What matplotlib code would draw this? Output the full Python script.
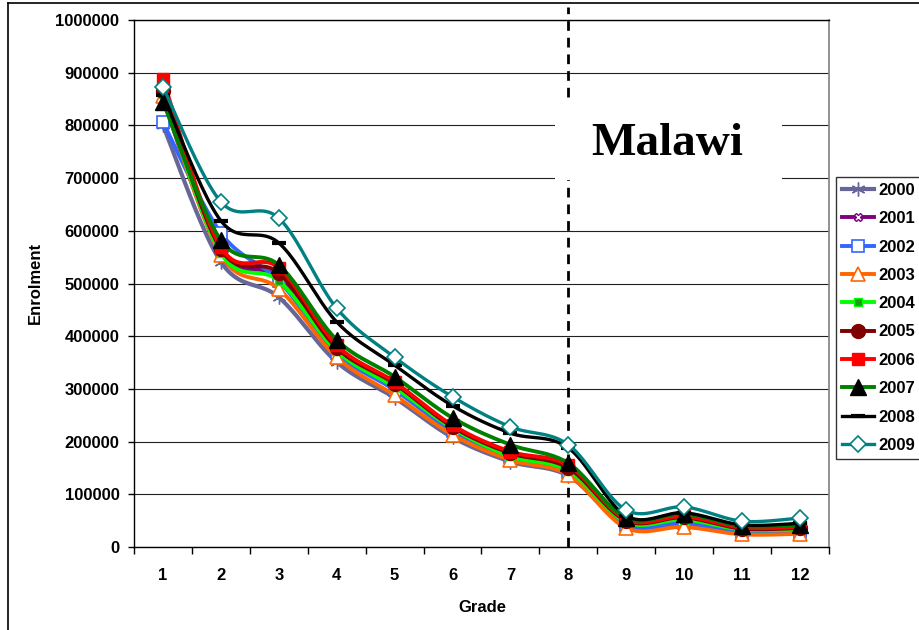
import numpy as np
import matplotlib
matplotlib.use('Agg')
import matplotlib.pyplot as plt
from matplotlib.lines import Line2D
from matplotlib.patches import Rectangle

plt.rcParams['font.family'] = ['Liberation Sans', 'DejaVu Sans']
plt.rcParams['font.weight'] = 'bold'

grades = [1, 2, 3, 4, 5, 6, 7, 8, 9, 10, 11, 12]
years = ['2000', '2001', '2002', '2003', '2004', '2005', '2006', '2007', '2008', '2009']

enr_2000 = [800000, 541000, 474000, 351000, 283000, 208000, 162000, 135000, 40000, 44000, 28000, 28000]
enr_2001 = [850000, 560000, 512000, 370000, 300000, 222000, 172000, 145000, 45000, 50000, 32000, 32000]
enr_2002 = [806000, 596000, 505000, 368000, 298000, 220000, 170000, 143000, 42000, 46000, 28000, 28000]
enr_2003 = [855000, 554000, 490000, 360000, 288000, 213000, 165000, 137000, 36000, 38000, 24000, 25000]
enr_2004 = [860000, 558000, 505000, 372000, 303000, 225000, 172000, 145000, 47000, 52000, 33000, 33000]
enr_2005 = [865000, 565000, 520000, 378000, 310000, 228000, 178000, 150000, 50000, 56000, 35000, 36000]
enr_2006 = [888000, 569000, 530000, 383000, 313000, 231000, 181000, 155000, 52000, 58000, 37000, 38000]
enr_2007 = [845000, 582000, 535000, 393000, 323000, 245000, 194000, 159000, 55000, 63000, 40000, 42000]
enr_2008 = [858000, 619000, 577000, 427000, 345000, 268000, 216000, 188000, 59000, 65000, 42000, 45000]
enr_2009 = [873000, 655000, 624000, 453000, 360000, 285000, 228000, 194000, 70000, 76000, 49000, 55000]

series = [enr_2000, enr_2001, enr_2002, enr_2003, enr_2004,
          enr_2005, enr_2006, enr_2007, enr_2008, enr_2009]

colors = ['#666699', '#800080', '#3366FF', '#FF6600', '#00FF00',
          '#800000', '#FF0000', '#008000', '#000000', '#008080']
styles = [
    dict(marker=(6, 2, 0), ms=10, mfc='#666699', mec='#666699', mew=1.0),
    dict(marker='X', ms=6, mfc='white', mec='#800080', mew=1.0),
    dict(marker='s', ms=9, mfc='white', mec='#3366FF', mew=1.2),
    dict(marker='^', ms=10, mfc='white', mec='#FF6600', mew=1.2),
    dict(marker='s', ms=6, mfc='#1a9a1a', mec='#00FF00', mew=1.0),
    dict(marker='o', ms=10, mfc='#800000', mec='#800000', mew=1.0),
    dict(marker='s', ms=8, mfc='#FF0000', mec='#FF0000', mew=1.0),
    dict(marker='^', ms=11, mfc='#000000', mec='#000000', mew=1.0),
    dict(marker='_', ms=10, mfc='#000000', mec='#000000', mew=3.0),
    dict(marker='D', ms=8, mfc='white', mec='#008080', mew=1.2),
]
lws = [3.0, 2.8, 2.8, 2.8, 2.8, 2.8, 2.8, 2.8, 2.4, 2.4]


def smooth(x, y, n=24):
    x = np.asarray(x, float)
    y = np.asarray(y, float)
    px, py = [], []
    m = len(x)
    for i in range(m - 1):
        x0, y0 = (x[i - 1], y[i - 1]) if i > 0 else (x[i], y[i])
        x1, y1 = x[i], y[i]
        x2, y2 = x[i + 1], y[i + 1]
        x3, y3 = (x[i + 2], y[i + 2]) if i + 2 < m else (x[i + 1], y[i + 1])
        c1x, c1y = x1 + (x2 - x0) / 6, y1 + (y2 - y0) / 6
        c2x, c2y = x2 - (x3 - x1) / 6, y2 - (y3 - y1) / 6
        t = np.linspace(0, 1, n)
        bx = (1 - t) ** 3 * x1 + 3 * (1 - t) ** 2 * t * c1x + 3 * (1 - t) * t ** 2 * c2x + t ** 3 * x2
        by = (1 - t) ** 3 * y1 + 3 * (1 - t) ** 2 * t * c1y + 3 * (1 - t) * t ** 2 * c2y + t ** 3 * y2
        if i > 0:
            bx, by = bx[1:], by[1:]
        px.extend(bx)
        py.extend(by)
    return np.array(px), np.array(py)


fig = plt.figure(figsize=(9.19, 6.30), dpi=100)
ax = fig.add_axes([134 / 919, 1 - 547 / 630, 695 / 919, 527 / 630])

ax.set_xlim(0.5, 12.5)
ax.set_ylim(0, 1000000)
ax.set_yticks(np.arange(0, 1000001, 100000))
ax.set_yticklabels([str(v) for v in range(0, 1000001, 100000)])
ax.set_xticks(grades)
ax.set_xticklabels([str(g) for g in grades])
ax.set_xticks(np.arange(0.5, 13, 1), minor=True)
ax.tick_params(axis='x', which='major', length=0, pad=15, labelsize=12)
ax.tick_params(axis='x', which='minor', length=5, width=1, direction='out')
ax.tick_params(axis='y', which='major', length=4.5, width=1, direction='out', pad=6, labelsize=12)
ax.yaxis.grid(True, color='#202020', lw=0.8)
ax.set_axisbelow(True)
for s in ['left', 'bottom', 'top']:
    ax.spines[s].set_color('black')
    ax.spines[s].set_linewidth(1.0)
ax.spines['right'].set_color('#808080')
ax.spines['right'].set_linewidth(1.2)

# boundary line at grade 8
ax.plot([8, 8], [0, 1024000], color='black', lw=2.0, ls=(0, (3.5, 2.5)),
        clip_on=False, zorder=1.5)

# Malawi label box
ax.add_patch(Rectangle((421 / 695, 367 / 527), 227 / 695, 78 / 527,
                       transform=ax.transAxes, facecolor='white', edgecolor='none',
                       zorder=1.8, clip_on=False))
ax.text(533 / 695, 403 / 527, 'Malawi', transform=ax.transAxes, ha='center', va='center',
        fontsize=34, fontweight='bold', family=['Liberation Serif', 'DejaVu Serif'], zorder=1.9)

handles = []
for i, (vals, col, st, lw, yr) in enumerate(zip(series, colors, styles, lws, years)):
    sx, sy = smooth(grades, vals)
    z = 3 + i * 0.1
    ax.plot(sx, sy, color=col, lw=lw, solid_capstyle='round', zorder=z)
    ax.plot(grades, vals, ls='none', zorder=z + 0.05, **st)
    handles.append(Line2D([0], [0], color=col, lw=lw, **st))

leg = fig.legend(handles, years, loc='upper left', bbox_to_anchor=(836 / 919, 1 - 177 / 630),
                 fontsize=12, frameon=True, fancybox=False, edgecolor='black',
                 handlelength=1.9, handletextpad=0.3, labelspacing=0.8, borderpad=0.35,
                 borderaxespad=0)
leg.get_frame().set_linewidth(1.0)
for t in leg.get_texts():
    t.set_fontweight('bold')

fig.text(35 / 919, 1 - 283 / 630, 'Enrolment', rotation=90, ha='center', va='center',
         fontsize=12, fontweight='bold')
fig.text(482 / 919, 1 - 607 / 630, 'Grade', ha='center', va='center',
         fontsize=12, fontweight='bold')

# outer border
fig.add_artist(Line2D([8 / 919, 8 / 919], [0, 1 - 3 / 630], transform=fig.transFigure,
                      color='black', lw=1.2))
fig.add_artist(Line2D([8 / 919, 1], [1 - 3 / 630, 1 - 3 / 630], transform=fig.transFigure,
                      color='black', lw=1.2))

fig.savefig('out.png', dpi=100)
